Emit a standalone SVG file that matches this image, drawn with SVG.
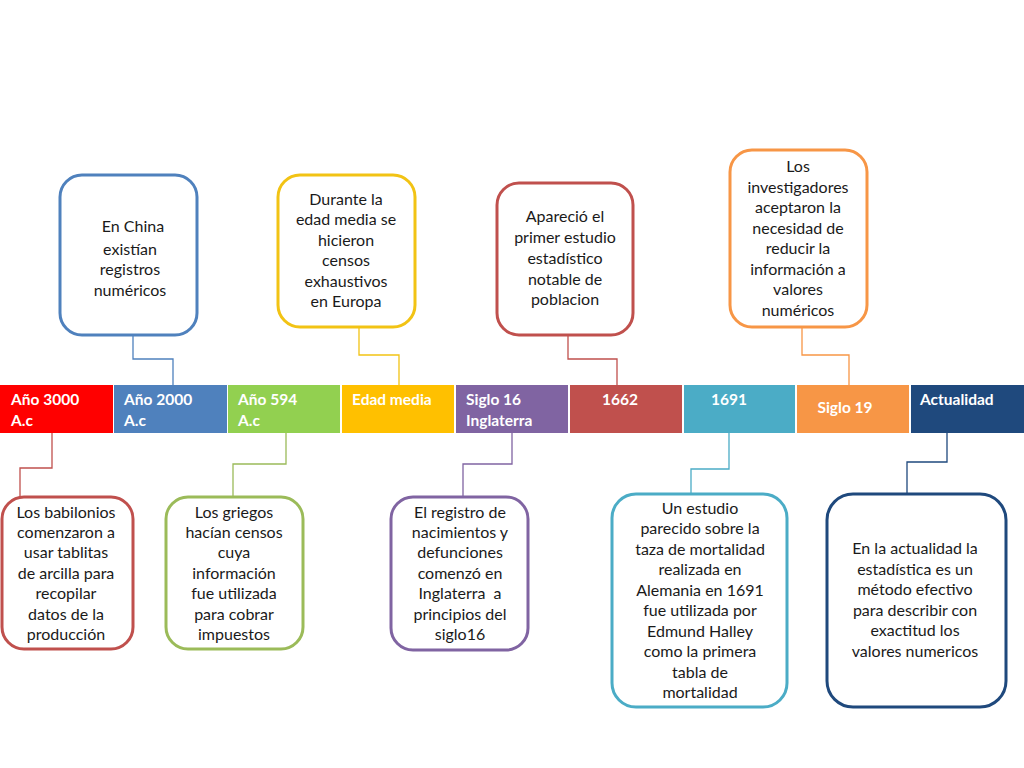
<svg xmlns="http://www.w3.org/2000/svg" width="1024" height="768" viewBox="0 0 1024 768">
<style>
.box{fill:#fff;stroke-width:3}
.t{font-family:Lato,"Open Sans",sans-serif;font-size:16px;fill:#1a1a1a;text-anchor:middle}
.l{font-family:Lato,"Open Sans",sans-serif;font-size:15.5px;font-weight:bold;fill:#fff}
.c{fill:none;stroke-width:1.3}
</style>
<rect width="1024" height="768" fill="#fff"/>
<g id="timeline">
<rect x="0" y="385" width="113" height="48" fill="#FF0000"/>
<rect x="114" y="385" width="113" height="48" fill="#4F81BD"/>
<rect x="228" y="385" width="112" height="48" fill="#92D050"/>
<rect x="342" y="385" width="112" height="48" fill="#FFC000"/>
<rect x="456" y="385" width="112" height="48" fill="#8064A2"/>
<rect x="570" y="385" width="112" height="48" fill="#C0504D"/>
<rect x="684" y="385" width="111" height="48" fill="#4BACC6"/>
<rect x="797" y="385" width="112" height="48" fill="#F79646"/>
<rect x="911" y="385" width="113" height="48" fill="#1F497D"/>
<text class="l" x="11" y="405">Año 3000<tspan x="11" y="426">A.c</tspan></text>
<text class="l" x="124" y="405">Año 2000<tspan x="124" y="426">A.c</tspan></text>
<text class="l" x="238" y="405">Año 594<tspan x="238" y="426">A.c</tspan></text>
<text class="l" x="352" y="405">Edad media</text>
<text class="l" x="466" y="405">Siglo 16<tspan x="466" y="426">Inglaterra</tspan></text>
<text class="l" x="620" y="405" text-anchor="middle">1662</text>
<text class="l" x="729" y="405" text-anchor="middle">1691</text>
<text class="l" x="845" y="413" text-anchor="middle">Siglo 19</text>
<text class="l" x="920" y="405">Actualidad</text>
</g>
<g id="connectors">
<polyline class="c" stroke="#4F81BD" points="133,336 133,359 173,359 173,385"/>
<polyline class="c" stroke="#F2C314" points="359,327 359,355 399,355 399,385"/>
<polyline class="c" stroke="#C0504D" points="568,335 568,359 617,359 617,385"/>
<polyline class="c" stroke="#F79646" points="802,328 802,355 849,355 849,385"/>
<polyline class="c" stroke="#C0504D" points="52,433 52,468 20,468 20,497"/>
<polyline class="c" stroke="#9BBB59" points="286,433 286,464 233,464 233,497"/>
<polyline class="c" stroke="#8064A2" points="512,433 512,464 463,464 463,497"/>
<polyline class="c" stroke="#4BACC6" points="729,433 729,469 691,469 691,494"/>
<polyline class="c" stroke="#1F497D" points="947,433 947,462 907,462 907,494"/>
</g>
<g id="n-china">
<rect class="box" x="60" y="175" width="137" height="160" rx="22" stroke="#4F81BD"/>
<text class="t"><tspan x="133" y="232">En China</tspan><tspan x="130" y="255">existían</tspan><tspan x="130" y="275">registros</tspan><tspan x="130" y="296">numéricos</tspan></text>
</g>
<g id="n-edad">
<rect class="box" x="278" y="175" width="137" height="152" rx="22" stroke="#F2C314"/>
<text class="t"><tspan x="346" y="205">Durante la</tspan><tspan x="346" y="225">edad media se</tspan><tspan x="346" y="246">hicieron</tspan><tspan x="346" y="266">censos</tspan><tspan x="346" y="287">exhaustivos</tspan><tspan x="346" y="307">en Europa</tspan></text>
</g>
<g id="n-1662">
<rect class="box" x="497" y="183" width="136" height="152" rx="22" stroke="#C0504D"/>
<text class="t"><tspan x="565" y="222">Apareció el</tspan><tspan x="565" y="243">primer estudio</tspan><tspan x="565" y="264">estadístico</tspan><tspan x="565" y="285">notable de</tspan><tspan x="565" y="305">poblacion</tspan></text>
</g>
<g id="n-siglo19">
<rect class="box" x="730" y="150" width="137" height="177" rx="22" stroke="#F79646"/>
<text class="t"><tspan x="798" y="172">Los</tspan><tspan x="798" y="193">investigadores</tspan><tspan x="798" y="213">aceptaron la</tspan><tspan x="798" y="234">necesidad de</tspan><tspan x="798" y="254">reducir la</tspan><tspan x="798" y="275">información a</tspan><tspan x="798" y="295">valores</tspan><tspan x="798" y="316">numéricos</tspan></text>
</g>
<g id="n-babilonios">
<rect class="box" x="2" y="497" width="131" height="152" rx="22" stroke="#C0504D"/>
<text class="t"><tspan x="66" y="518">Los babilonios</tspan><tspan x="66" y="538">comenzaron a</tspan><tspan x="66" y="558">usar tablitas</tspan><tspan x="66" y="579">de arcilla para</tspan><tspan x="66" y="599">recopilar</tspan><tspan x="66" y="620">datos de la</tspan><tspan x="66" y="640">producción</tspan></text>
</g>
<g id="n-griegos">
<rect class="box" x="166" y="497" width="137" height="152" rx="22" stroke="#9BBB59"/>
<text class="t"><tspan x="234" y="518">Los griegos</tspan><tspan x="234" y="538">hacían censos</tspan><tspan x="234" y="558">cuya</tspan><tspan x="234" y="579">información</tspan><tspan x="234" y="599">fue utilizada</tspan><tspan x="234" y="620">para cobrar</tspan><tspan x="234" y="640">impuestos</tspan></text>
</g>
<g id="n-registro">
<rect class="box" x="391" y="497" width="137" height="153" rx="22" stroke="#8064A2"/>
<text class="t"><tspan x="460" y="518">El registro de</tspan><tspan x="460" y="538">nacimientos y</tspan><tspan x="460" y="558">defunciones</tspan><tspan x="460" y="579">comenzó en</tspan><tspan x="460" y="599" xml:space="preserve">Inglaterra  a</tspan><tspan x="460" y="620">principios del</tspan><tspan x="460" y="640">siglo16</tspan></text>
</g>
<g id="n-1691">
<rect class="box" x="612" y="494" width="175" height="213" rx="24" stroke="#4BACC6"/>
<text class="t"><tspan x="700" y="514">Un estudio</tspan><tspan x="700" y="534">parecido sobre la</tspan><tspan x="700" y="555">taza de mortalidad</tspan><tspan x="700" y="575">realizada en</tspan><tspan x="700" y="596">Alemania en 1691</tspan><tspan x="700" y="616">fue utilizada por</tspan><tspan x="700" y="637">Edmund Halley</tspan><tspan x="700" y="657">como la primera</tspan><tspan x="700" y="678">tabla de</tspan><tspan x="700" y="698">mortalidad</tspan></text>
</g>
<g id="n-actualidad">
<rect class="box" x="827" y="494" width="179" height="213" rx="26" stroke="#1F497D"/>
<text class="t"><tspan x="915" y="554">En la actualidad la</tspan><tspan x="915" y="575">estadística es un</tspan><tspan x="915" y="595">método efectivo</tspan><tspan x="915" y="616">para describir con</tspan><tspan x="915" y="636">exactitud los</tspan><tspan x="915" y="657">valores numericos</tspan></text>
</g>
</svg>
